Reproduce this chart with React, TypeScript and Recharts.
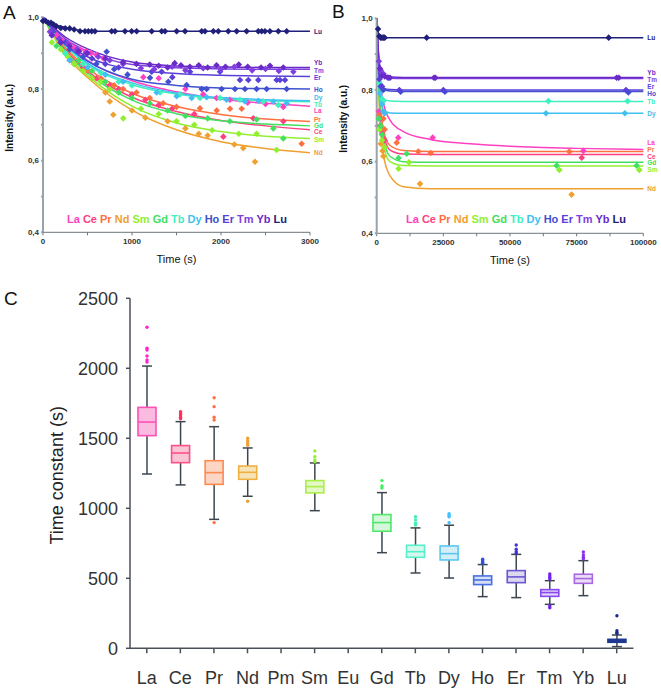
import React from "react";
import { ComposedChart, Line, Scatter, XAxis, YAxis, Bar, Legend } from "recharts";

const FONT = '"Liberation Sans", Arial, Helvetica, sans-serif';

// ---- panels A and B: intensity decay ----
const DECAY_ELEMENTS = ["La", "Ce", "Pr", "Nd", "Sm", "Gd", "Tb", "Dy", "Ho", "Er", "Tm", "Yb", "Lu"];
const DECAY_COLORS = [
  "#ff40c0", "#ff4080", "#ff7040", "#f0a030", "#90f030", "#40e060", "#40f0c0",
  "#40c0f0", "#4050d0", "#5a40d8", "#8040e0", "#6a2ac8", "#20207a",
];

const FIT_TIME_A = [0, 250, 500, 1000, 1500, 2000, 2500, 3000];
const FIT_A = [
  [1.0, 0.93, 0.88, 0.823, 0.792, 0.771, 0.76, 0.752],
  [1.0, 0.91, 0.85, 0.777, 0.737, 0.712, 0.697, 0.686],
  [1.0, 0.915, 0.858, 0.788, 0.751, 0.729, 0.716, 0.709],
  [1.0, 0.895, 0.832, 0.741, 0.686, 0.653, 0.634, 0.622],
  [1.0, 0.9, 0.838, 0.752, 0.705, 0.681, 0.668, 0.662],
  [1.0, 0.905, 0.845, 0.769, 0.731, 0.711, 0.702, 0.697],
  [1.0, 0.92, 0.868, 0.812, 0.786, 0.773, 0.767, 0.764],
  [1.0, 0.925, 0.872, 0.817, 0.789, 0.776, 0.77, 0.767],
  [1.0, 0.925, 0.878, 0.827, 0.81, 0.803, 0.801, 0.8],
  [1.0, 0.93, 0.89, 0.855, 0.843, 0.838, 0.836, 0.835],
  [1.0, 0.94, 0.905, 0.868, 0.859, 0.856, 0.855, 0.855],
  [1.0, 0.945, 0.912, 0.875, 0.864, 0.861, 0.86, 0.86],
  [0.99, 0.972, 0.961, 0.961, 0.961, 0.961, 0.961, 0.961],
];

const POINTS_A = [
  [[80, 0.96], [150, 0.95], [220, 0.935], [300, 0.925], [350, 0.915], [420, 0.91], [480, 0.905], [540, 0.9], [600, 0.895], [680, 0.885], [1127, 0.833], [1300, 0.83], [1600, 0.8], [1800, 0.785], [1950, 0.775], [2100, 0.77], [2300, 0.762], [2500, 0.758], [2700, 0.75]],
  [[300, 0.88], [450, 0.86], [600, 0.83], [750, 0.81], [850, 0.8], [1000, 0.785], [1150, 0.77], [1300, 0.755], [1450, 0.745], [1700, 0.73], [2026, 0.667], [2363, 0.718], [2700, 0.71]],
  [[350, 0.87], [500, 0.85], [650, 0.83], [800, 0.81], [900, 0.8], [1050, 0.79], [1200, 0.775], [1350, 0.76], [1500, 0.75], [1764, 0.746], [1952, 0.74], [2101, 0.745], [2232, 0.745], [2906, 0.647]],
  [[450, 0.85], [550, 0.83], [700, 0.79], [750, 0.765], [790, 0.728], [1000, 0.74], [1150, 0.72], [1400, 0.71], [1600, 0.69], [1750, 0.675], [1850, 0.67], [2150, 0.645], [2250, 0.635], [2382, 0.597]],
  [[100, 0.93], [200, 0.91], [280, 0.89], [350, 0.87], [450, 0.85], [550, 0.83], [650, 0.82], [750, 0.8], [902, 0.718], [1100, 0.745], [1300, 0.73], [1500, 0.71], [1700, 0.7], [1900, 0.685], [2200, 0.675], [2400, 0.675], [2625, 0.63]],
  [[150, 0.92], [250, 0.9], [400, 0.88], [550, 0.85], [700, 0.82], [850, 0.79], [1000, 0.775], [1200, 0.76], [1400, 0.74], [1600, 0.725], [1850, 0.718], [2100, 0.71], [2400, 0.715], [2588, 0.69], [2700, 0.662]],
  [[250, 0.9], [450, 0.87], [650, 0.845], [850, 0.82], [1000, 0.81], [1315, 0.79], [1540, 0.785], [1764, 0.775], [1989, 0.775], [2213, 0.77], [2476, 0.765], [2644, 0.755]],
  [[300, 0.88], [500, 0.86], [700, 0.84], [900, 0.82], [1277, 0.79], [1502, 0.78], [1670, 0.775], [1839, 0.777], [2063, 0.77], [2269, 0.765], [2419, 0.767], [2588, 0.765], [2738, 0.76]],
  [[100, 0.96], [200, 0.93], [300, 0.91], [450, 0.89], [600, 0.87], [715, 0.904], [800, 0.855], [950, 0.84], [1202, 0.831], [1408, 0.82], [1614, 0.811], [1783, 0.8], [1839, 0.8], [2007, 0.8], [2157, 0.8], [2269, 0.8], [2400, 0.8], [2513, 0.8], [2738, 0.8]],
  [[100, 0.95], [250, 0.93], [400, 0.905], [550, 0.885], [700, 0.87], [850, 0.86], [1221, 0.848], [1333, 0.848], [1453, 0.833], [1652, 0.848], [1989, 0.848], [2213, 0.825], [2307, 0.825], [2419, 0.825], [2625, 0.825], [2663, 0.825], [2719, 0.825]],
  [[80, 0.96], [180, 0.94], [280, 0.925], [380, 0.91], [480, 0.9], [620, 0.89], [750, 0.88], [900, 0.87], [1100, 0.858], [1250, 0.855], [1450, 0.862], [1600, 0.852], [1800, 0.858], [2000, 0.855], [2150, 0.862], [2350, 0.852], [2500, 0.856], [2650, 0.85], [2813, 0.848]],
  [[100, 0.95], [200, 0.93], [300, 0.92], [400, 0.905], [500, 0.9], [700, 0.885], [900, 0.875], [1050, 0.87], [1200, 0.868], [1300, 0.865], [1400, 0.86], [1480, 0.872], [1550, 0.866], [1650, 0.862], [1750, 0.866], [1850, 0.86], [1950, 0.866], [2050, 0.862], [2200, 0.868], [2300, 0.862], [2450, 0.86], [2550, 0.865], [2700, 0.86]],
  [[0, 0.99], [30, 0.99], [60, 0.985], [90, 0.985], [120, 0.98], [150, 0.975], [200, 0.97], [250, 0.969], [300, 0.969], [350, 0.966], [416, 0.961], [472, 0.961], [509, 0.961], [547, 0.961], [584, 0.961], [771, 0.961], [809, 0.961], [921, 0.961], [996, 0.961], [1052, 0.961], [1221, 0.961], [1333, 0.961], [1371, 0.961], [1502, 0.961], [1596, 0.961], [1783, 0.961], [1820, 0.961], [1914, 0.961], [1970, 0.961], [2082, 0.961], [2176, 0.961], [2288, 0.961], [2419, 0.961], [2457, 0.961], [2494, 0.961], [2550, 0.961], [2644, 0.961], [2738, 0.961]],
];

const END_LABEL_A = [0.741, 0.681, 0.715, 0.622, 0.66, 0.697, 0.758, 0.776, 0.799, 0.833, 0.851, 0.874, 0.959];

const FIT_TIME_B = [0, 1000, 2500, 5000, 10000, 20000, 35000, 50000, 75000, 100000];
const FIT_B = [
  [1.0, 0.85, 0.765, 0.716, 0.684, 0.662, 0.65, 0.643, 0.637, 0.634],
  [1.0, 0.79, 0.68, 0.632, 0.621, 0.62, 0.62, 0.62, 0.62, 0.62],
  [1.0, 0.8, 0.69, 0.645, 0.631, 0.628, 0.628, 0.628, 0.628, 0.628],
  [1.0, 0.75, 0.62, 0.56, 0.53, 0.524, 0.524, 0.524, 0.524, 0.524],
  [1.0, 0.77, 0.645, 0.6, 0.589, 0.588, 0.588, 0.588, 0.588, 0.588],
  [1.0, 0.78, 0.665, 0.615, 0.6, 0.598, 0.598, 0.598, 0.598, 0.598],
  [1.0, 0.82, 0.775, 0.769, 0.768, 0.768, 0.768, 0.768, 0.768, 0.768],
  [1.0, 0.8, 0.745, 0.736, 0.735, 0.735, 0.735, 0.735, 0.735, 0.735],
  [1.0, 0.835, 0.802, 0.797, 0.796, 0.796, 0.796, 0.796, 0.796, 0.796],
  [1.0, 0.84, 0.806, 0.801, 0.8, 0.8, 0.8, 0.8, 0.8, 0.8],
  [1.0, 0.87, 0.836, 0.833, 0.832, 0.832, 0.832, 0.832, 0.832, 0.832],
  [1.0, 0.875, 0.84, 0.836, 0.835, 0.835, 0.835, 0.835, 0.835, 0.835],
  [1.0, 0.947, 0.946, 0.946, 0.946, 0.946, 0.946, 0.946, 0.946, 0.946],
];

const POINTS_B = [
  [[800, 0.74], [1500, 0.72], [8100, 0.667], [21000, 0.667], [77500, 0.63]],
  [[1200, 0.7], [2000, 0.68], [3000, 0.66], [76900, 0.611]],
  [[1000, 0.73], [2500, 0.72], [3000, 0.69], [7500, 0.653], [15600, 0.628], [20250, 0.624], [72250, 0.628]],
  [[1500, 0.65], [2200, 0.63], [2500, 0.615], [16250, 0.538], [73100, 0.508]],
  [[1000, 0.69], [2000, 0.66], [3000, 0.64], [8200, 0.58], [12100, 0.598], [68500, 0.577], [98500, 0.577]],
  [[800, 0.72], [1500, 0.7], [2000, 0.675], [8200, 0.61], [11250, 0.622], [67500, 0.589], [97500, 0.589]],
  [[1000, 0.82], [2000, 0.775], [2500, 0.769], [64400, 0.769], [94100, 0.769]],
  [[1200, 0.79], [2000, 0.76], [2500, 0.74], [3000, 0.735], [63500, 0.735], [93100, 0.735]],
  [[1500, 0.81], [2500, 0.8], [9000, 0.795], [25600, 0.795], [94400, 0.793]],
  [[1000, 0.83], [2000, 0.81], [8500, 0.8], [25000, 0.8], [93500, 0.8]],
  [[800, 0.88], [1500, 0.855], [2500, 0.845], [4000, 0.835]],
  [[1200, 0.86], [2000, 0.84], [3000, 0.838], [4500, 0.834], [5000, 0.834], [21500, 0.834], [22000, 0.834], [90000, 0.834], [90800, 0.834]],
  [[500, 0.97], [1000, 0.95], [1500, 0.946], [2000, 0.946], [2500, 0.946], [3000, 0.946], [18750, 0.946], [87000, 0.946]],
];

const END_LABEL_B = [0.653, 0.615, 0.634, 0.524, 0.579, 0.598, 0.769, 0.735, 0.79, 0.81, 0.829, 0.849, 0.946];

const INTENSITY_TICKS = [0.4, 0.5, 0.6, 0.7, 0.8, 0.9, 1.0];
const TIME_TICKS_A = [0, 500, 1000, 1500, 2000, 2500, 3000];
const TIME_MAJOR_A = [0, 1000, 2000, 3000];
const TIME_TICKS_B = [0, 12500, 25000, 37500, 50000, 62500, 75000, 87500, 100000];
const TIME_MAJOR_B = [0, 25000, 50000, 75000, 100000];

// ---- panel C: time constants ----
const BOX_ELEMENTS = ["La", "Ce", "Pr", "Nd", "Pm", "Sm", "Eu", "Gd", "Tb", "Dy", "Ho", "Er", "Tm", "Yb", "Lu"];
const BOX_LO = [1245, 1167, 921, 1086, null, 983, null, 683, 538, 502, 369, 362, 314, 376, 12];
const BOX_Q1 = [1519, 1326, 1171, 1207, null, 1110, null, 836, 650, 631, 455, 469, 371, 464, 43];
const BOX_MED = [1616, 1395, 1255, 1257, null, 1155, null, 898, 690, 676, 488, 510, 398, 498, 55];
const BOX_Q3 = [1721, 1448, 1340, 1302, null, 1198, null, 955, 736, 731, 517, 555, 419, 529, 64];
const BOX_HI = [2016, 1619, 1583, 1431, null, 1324, null, 1112, 860, 879, 598, 671, 483, 626, 95];
const BOX_OUTLIERS = [
  [2293, 2143, 2130, 2088, 2060, 2045],
  [1690, 1680, 1670, 1660, 1650, 1640],
  [1790, 1726, 1650, 1630, 898],
  [1500, 1483, 1466, 1450, 1050],
  [],
  [1410, 1369, 1345, 1333],
  [],
  [1198, 1160, 1145],
  [940, 917, 893, 881],
  [962, 950, 940, 898],
  [636, 625, 615, 607],
  [738, 707, 690, 679],
  [531, 517, 505, 495, 302, 290],
  [688, 667, 650, 640],
  [233, 126, 112, 105],
];
const TIME_CONSTANT_TICKS = [0, 500, 1000, 1500, 2000, 2500];

const BOX_STROKE = ["#ff50b4", "#ff5088", "#ff8a50", "#f0b040", null, "#a8f048", null, "#50e868", "#58f0c8", "#58c8f0", "#4870e0", "#6a58d0", "#8848f0", "#a868e0", "#203890"];
const BOX_FILL = ["#f9bce0", "#f9c4d4", "#fcd6c4", "#f6e4b8", null, "#e4f8c8", null, "#d4f6da", "#d4f8ee", "#d4eef8", "#d4def4", "#dcd8f0", "#e2d4fa", "#ecdcf6", "#203890"];
const BOX_DOT = ["#ff20d0", "#ff3060", "#ff7040", "#f0a030", null, "#90f030", null, "#40f060", "#40f0b0", "#40c0ff", "#3050e0", "#4030e0", "#7020f0", "#8a30f0", "#1a2a90"];

const DECAY_H = 268;

const Diamond = (props: any) => {
  const { cx, cy, fill } = props;
  if (cx == null || cy == null) return null;
  const r = 3.3;
  return <polygon points={`${cx},${cy - r} ${cx + r},${cy} ${cx},${cy + r} ${cx - r},${cy}`} fill={fill} />;
};

const EndLabel = (props: any) => {
  const { cx, cy, payload } = props;
  if (cx == null || cy == null) return null;
  return (
    <text x={cx + 4} y={cy} dominantBaseline="central" fontSize={6.5} fontWeight="bold" fontFamily={FONT} fill={payload.color}>
      {payload.el}
    </text>
  );
};

const DecayLegend = () => (
  <div style={{ fontFamily: FONT, fontWeight: "bold", fontSize: 11, whiteSpace: "nowrap", lineHeight: "12px" }}>
    {DECAY_ELEMENTS.map((el, i) => (
      <span key={el} style={{ color: DECAY_COLORS[i] }}>
        {el}
        {i < DECAY_ELEMENTS.length - 1 ? " " : ""}
      </span>
    ))}
  </div>
);

type DecayPanelProps = {
  left: number;
  width: number;
  plot: { left: number; right: number; top: number; bottom: number };
  fitTimes: number[];
  fits: number[][];
  points: number[][][];
  labels: number[];
  xMax: number;
  xTicks: number[];
  xMajor: number[];
  legendLeft: number;
  yTitleDx: number;
};

function DecayPanel(p: DecayPanelProps) {
  const yAxisW = 28;
  const xAxisH = 22;
  const margin = {
    top: p.plot.top,
    left: p.plot.left - yAxisW,
    right: p.width - p.plot.right,
    bottom: DECAY_H - p.plot.bottom - xAxisH,
  };
  const labelData = DECAY_ELEMENTS.map((el, i) => ({ t: p.xMax, v: p.labels[i], el, color: DECAY_COLORS[i] }));
  const tickStyle = { fontSize: 8, fontWeight: "bold", fill: "#333", fontFamily: FONT };

  return (
    <div style={{ position: "absolute", left: p.left, top: 0 }}>
      <ComposedChart width={p.width} height={DECAY_H} margin={margin}>
        <XAxis
          type="number"
          dataKey="t"
          domain={[0, p.xMax]}
          ticks={p.xTicks}
          interval={0}
          height={xAxisH}
          tickSize={3}
          tickMargin={3}
          stroke="#6b737b"
          tick={tickStyle}
          tickFormatter={(v: number) => (p.xMajor.includes(v) ? String(v) : "")}
          label={(lp: any) => {
            const vb = lp.viewBox;
            return (
              <text x={vb.x + vb.width / 2} y={vb.y + 30.5} textAnchor="middle" fontSize={11} fontFamily={FONT} fill="#111">
                Time (s)
              </text>
            );
          }}
        />
        <YAxis
          type="number"
          dataKey="v"
          domain={[0.4, 1.0]}
          ticks={INTENSITY_TICKS}
          interval={0}
          width={yAxisW}
          tickSize={2}
          tickMargin={2}
          stroke="#9aa3ab"
          strokeWidth={2}
          tick={tickStyle}
          tickFormatter={(v: number) => (Math.round(v * 10) % 2 === 0 ? v.toFixed(1).replace(".", ",") : "")}
          label={(lp: any) => {
            const vb = lp.viewBox;
            const cx = vb.x + p.yTitleDx;
            const cy = vb.y + vb.height / 2 - 7;
            return (
              <text x={cx} y={cy} transform={`rotate(-90 ${cx} ${cy})`} textAnchor="middle" dominantBaseline="central" fontSize={10} fontWeight="bold" fontFamily={FONT} fill="#111">
                Intensity (a.u.)
              </text>
            );
          }}
        />
        {DECAY_ELEMENTS.map((el, i) => (
          <Line
            key={"fit" + el}
            data={p.fitTimes.map((t, j) => ({ t, v: p.fits[i][j] }))}
            dataKey="v"
            type="monotone"
            stroke={DECAY_COLORS[i]}
            strokeWidth={1.5}
            dot={false}
            activeDot={false}
            isAnimationActive={false}
          />
        ))}
        {DECAY_ELEMENTS.map((el, i) => (
          <Scatter
            key={"pts" + el}
            data={p.points[i].map(([t, v]) => ({ t, v }))}
            fill={DECAY_COLORS[i]}
            shape={Diamond}
            isAnimationActive={false}
          />
        ))}
        <Scatter data={labelData} shape={EndLabel} isAnimationActive={false} />
        <Legend
          layout="horizontal"
          verticalAlign="middle"
          align="center"
          content={() => <DecayLegend />}
          wrapperStyle={{ left: p.legendLeft, top: 213, width: "auto", height: "auto" }}
        />
      </ComposedChart>
    </div>
  );
}

const BoxShape = (props: any) => {
  const { x, y, width, height, payload } = props;
  if (!payload || payload.lo == null || x == null) return null;
  const top = Math.min(y, y + height);
  const bottom = Math.max(y, y + height);
  const k = (bottom - top) / (payload.hi - payload.lo);
  const py = (v: number) => bottom - (v - payload.lo) * k;
  const cx = x + width / 2;
  const i = payload.idx;
  const cap = 5;
  const whisker = "#3c4650";
  return (
    <g>
      <line x1={cx} x2={cx} y1={py(payload.hi)} y2={py(payload.lo)} stroke={whisker} strokeWidth={1.5} />
      <line x1={cx - cap} x2={cx + cap} y1={py(payload.hi)} y2={py(payload.hi)} stroke={whisker} strokeWidth={1.5} />
      <line x1={cx - cap} x2={cx + cap} y1={py(payload.lo)} y2={py(payload.lo)} stroke={whisker} strokeWidth={1.5} />
      <rect x={x} y={py(payload.q3)} width={width} height={py(payload.q1) - py(payload.q3)} fill={BOX_FILL[i]} stroke={BOX_STROKE[i]} strokeWidth={1.6} />
      <line x1={x} x2={x + width} y1={py(payload.med)} y2={py(payload.med)} stroke={BOX_STROKE[i]} strokeWidth={1.6} />
      {payload.outliers.map((v: number, j: number) => (
        <circle key={j} cx={cx} cy={py(v)} r={1.7} fill={BOX_DOT[i]} />
      ))}
    </g>
  );
};

function TimeConstantPanel() {
  const data = BOX_ELEMENTS.map((el, i) => ({
    el,
    idx: i,
    range: BOX_LO[i] == null ? null : [BOX_LO[i], BOX_HI[i]],
    lo: BOX_LO[i],
    q1: BOX_Q1[i],
    med: BOX_MED[i],
    q3: BOX_Q3[i],
    hi: BOX_HI[i],
    outliers: BOX_OUTLIERS[i],
  }));
  const tickStyle = { fontSize: 18, fill: "#333", fontFamily: FONT };
  return (
    <div style={{ position: "absolute", left: 0, top: 270 }}>
      <ComposedChart width={661} height={420} data={data} margin={{ top: 28.3, left: 50, right: 27.5, bottom: 6.7 }}>
        <XAxis dataKey="el" interval={0} height={35} tickSize={5} tickMargin={18} stroke="#4a5058" strokeWidth={1.5} tick={tickStyle} />
        <YAxis
          type="number"
          domain={[0, 2500]}
          ticks={TIME_CONSTANT_TICKS}
          interval={0}
          width={80}
          tickSize={4}
          tickMargin={8}
          stroke="#4a5058"
          strokeWidth={1.5}
          tick={tickStyle}
          label={(lp: any) => {
            const vb = lp.viewBox;
            const cx = vb.x + 7;
            const cy = vb.y + vb.height / 2 + 2;
            return (
              <text x={cx} y={cy} transform={`rotate(-90 ${cx} ${cy})`} textAnchor="middle" dominantBaseline="central" fontSize={18} fontFamily={FONT} fill="#222">
                Time constant (s)
              </text>
            );
          }}
        />
        <Bar dataKey="range" barSize={18} shape={BoxShape} isAnimationActive={false} />
      </ComposedChart>
    </div>
  );
}

const letterStyle = (left: number, top: number): React.CSSProperties => ({
  position: "absolute",
  left,
  top,
  fontFamily: FONT,
  fontSize: 19,
  color: "#111",
  lineHeight: "20px",
});

export default function App() {
  return (
    <div style={{ position: "absolute", left: 0, top: 0, width: 661, height: 690, background: "#fff", overflow: "hidden" }}>
      <DecayPanel
        left={0}
        width={330}
        plot={{ left: 43, right: 310, top: 17.3, bottom: 232.3 }}
        fitTimes={FIT_TIME_A}
        fits={FIT_A}
        points={POINTS_A}
        labels={END_LABEL_A}
        xMax={3000}
        xTicks={TIME_TICKS_A}
        xMajor={TIME_MAJOR_A}
        legendLeft={67}
        yTitleDx={-5.5}
      />
      <DecayPanel
        left={330}
        width={331}
        plot={{ left: 46.7, right: 313.3, top: 18.3, bottom: 233.3 }}
        fitTimes={FIT_TIME_B}
        fits={FIT_B}
        points={POINTS_B}
        labels={END_LABEL_B}
        xMax={100000}
        xTicks={TIME_TICKS_B}
        xMajor={TIME_MAJOR_B}
        legendLeft={76}
        yTitleDx={-4.7}
      />
      <TimeConstantPanel />
      <div style={letterStyle(3, 3)}>A</div>
      <div style={letterStyle(332, 2)}>B</div>
      <div style={letterStyle(4, 289)}>C</div>
    </div>
  );
}
